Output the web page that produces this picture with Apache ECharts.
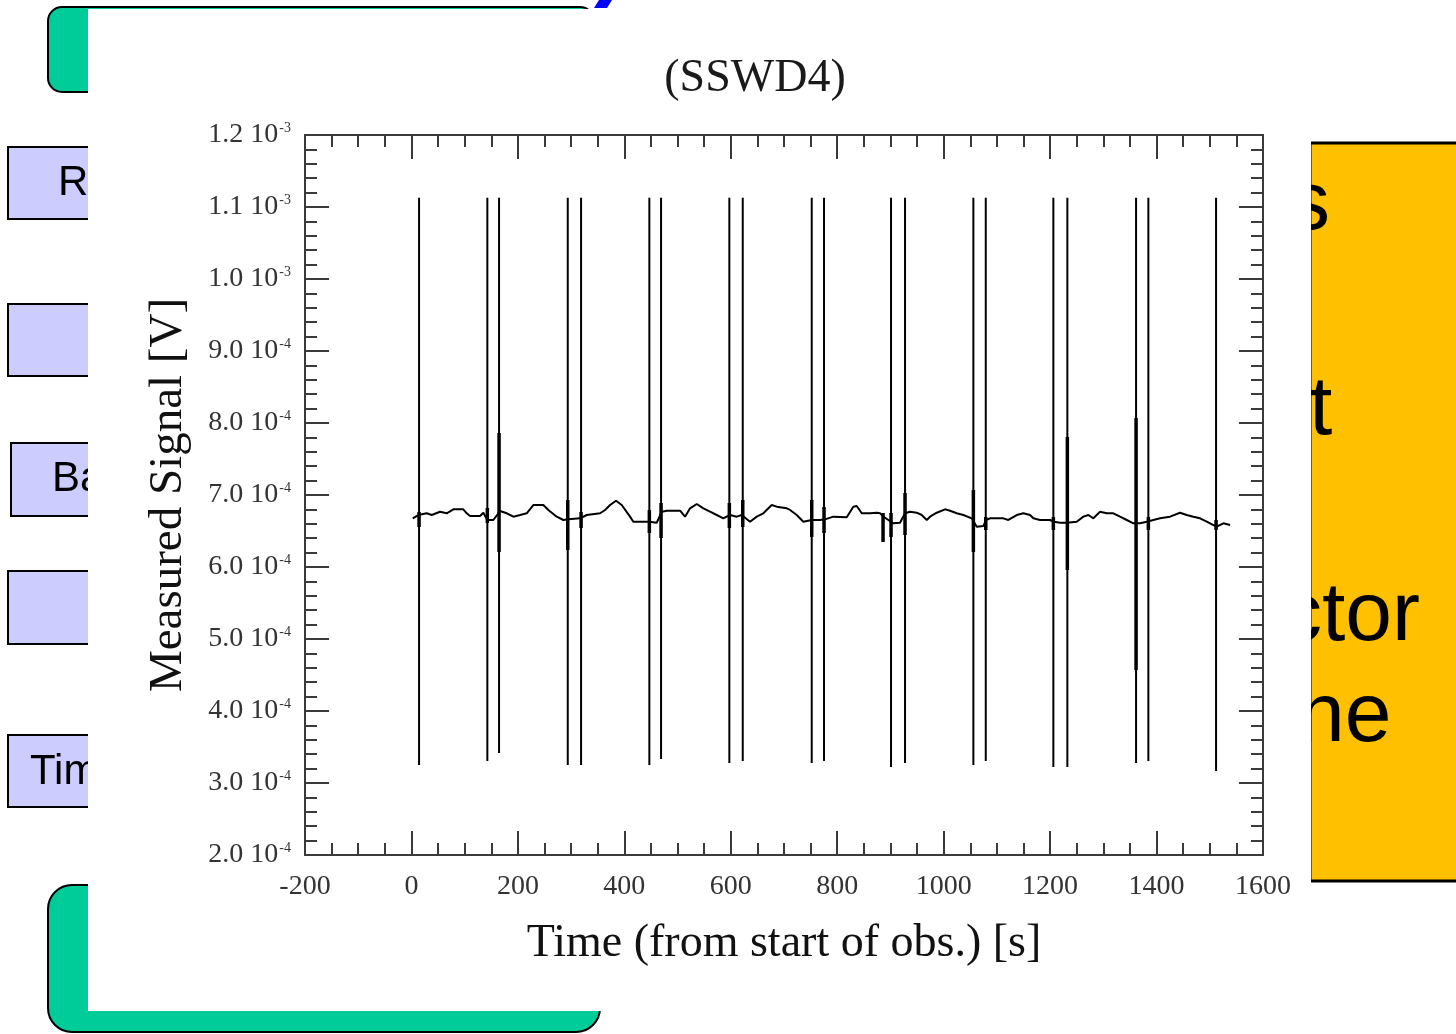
<!DOCTYPE html>
<html>
<head>
<meta charset="utf-8">
<script src="https://cdn.jsdelivr.net/npm/echarts@6/dist/echarts.min.js"></script>
<style>
html,body{margin:0;padding:0;background:#fff;}
#c{width:1456px;height:1034px;}
</style>
</head>
<body>
<div id="c"></div>
<script>
// ---- Data ----
const signalT = [2.4, 13.0, 28.7, 38.1, 53.7, 66.3, 78.7, 97.5, 103.9, 110.1, 128.9, 135.1, 142.6, 153.9, 166.5, 179.1, 191.5, 204.0, 216.6, 229.0, 247.8, 257.2, 273.0, 285.4, 294.8, 316.8, 329.4, 354.4, 363.8, 373.2, 384.4, 395.1, 410.7, 416.9, 435.7, 447.0, 460.9, 470.3, 479.7, 504.7, 514.1, 523.5, 536.1, 548.5, 561.0, 573.6, 586.0, 598.6, 611.2, 620.6, 636.2, 648.8, 661.2, 677.0, 686.4, 705.2, 711.4, 723.9, 736.4, 752.1, 767.7, 777.1, 792.7, 817.9, 830.3, 836.7, 846.1, 861.7, 874.3, 880.5, 886.7, 896.1, 905.5, 918.0, 927.4, 936.8, 949.4, 958.8, 968.2, 974.4, 987.0, 1002.6, 1012.0, 1024.6, 1037.0, 1052.7, 1062.1, 1074.6, 1079.6, 1087.1, 1112.1, 1121.5, 1137.3, 1149.7, 1162.3, 1168.5, 1181.1, 1199.9, 1207.4, 1218.7, 1231.3, 1250.0, 1262.5, 1271.9, 1281.3, 1293.8, 1306.4, 1318.8, 1331.4, 1344.0, 1356.4, 1369.0, 1381.6, 1394.0, 1406.6, 1425.3, 1444.1, 1456.7, 1469.1, 1481.7, 1494.3, 1506.7, 1513.1, 1525.5, 1538.1];
const signalV = [6.676e-4, 6.722e-4, 6.746e-4, 6.722e-4, 6.768e-4, 6.746e-4, 6.801e-4, 6.801e-4, 6.746e-4, 6.708e-4, 6.708e-4, 6.754e-4, 6.653e-4, 6.653e-4, 6.778e-4, 6.746e-4, 6.699e-4, 6.722e-4, 6.746e-4, 6.861e-4, 6.861e-4, 6.792e-4, 6.699e-4, 6.653e-4, 6.662e-4, 6.676e-4, 6.722e-4, 6.746e-4, 6.792e-4, 6.861e-4, 6.921e-4, 6.861e-4, 6.699e-4, 6.629e-4, 6.629e-4, 6.629e-4, 6.615e-4, 6.768e-4, 6.782e-4, 6.782e-4, 6.699e-4, 6.815e-4, 6.875e-4, 6.815e-4, 6.768e-4, 6.722e-4, 6.676e-4, 6.722e-4, 6.699e-4, 6.722e-4, 6.629e-4, 6.699e-4, 6.746e-4, 6.861e-4, 6.838e-4, 6.815e-4, 6.792e-4, 6.722e-4, 6.629e-4, 6.653e-4, 6.653e-4, 6.662e-4, 6.699e-4, 6.690e-4, 6.838e-4, 6.847e-4, 6.746e-4, 6.746e-4, 6.754e-4, 6.746e-4, 6.699e-4, 6.653e-4, 6.607e-4, 6.615e-4, 6.746e-4, 6.768e-4, 6.754e-4, 6.722e-4, 6.653e-4, 6.699e-4, 6.754e-4, 6.801e-4, 6.782e-4, 6.746e-4, 6.722e-4, 6.676e-4, 6.560e-4, 6.569e-4, 6.653e-4, 6.676e-4, 6.676e-4, 6.653e-4, 6.722e-4, 6.746e-4, 6.722e-4, 6.676e-4, 6.653e-4, 6.653e-4, 6.629e-4, 6.615e-4, 6.615e-4, 6.629e-4, 6.699e-4, 6.722e-4, 6.676e-4, 6.768e-4, 6.746e-4, 6.746e-4, 6.699e-4, 6.653e-4, 6.607e-4, 6.607e-4, 6.629e-4, 6.653e-4, 6.676e-4, 6.699e-4, 6.754e-4, 6.722e-4, 6.699e-4, 6.676e-4, 6.629e-4, 6.583e-4, 6.560e-4, 6.607e-4, 6.583e-4];

const spikeT    = [14.3, 142.6, 164.6, 293.7, 318.7, 447.0, 469.0, 597.3, 622.5, 752.1, 775.2, 901.1, 927.4, 1055.8, 1079.1, 1206.1, 1232.4, 1361.5, 1384.6, 1511.8];
const spikeLow  = [3.250e-4, 3.306e-4, 3.417e-4, 3.250e-4, 3.250e-4, 3.250e-4, 3.333e-4, 3.278e-4, 3.306e-4, 3.278e-4, 3.306e-4, 3.222e-4, 3.278e-4, 3.250e-4, 3.306e-4, 3.222e-4, 3.222e-4, 3.278e-4, 3.306e-4, 3.167e-4];
const spikeHigh = [1.113e-3, 1.113e-3, 1.113e-3, 1.113e-3, 1.113e-3, 1.113e-3, 1.113e-3, 1.113e-3, 1.113e-3, 1.113e-3, 1.113e-3, 1.113e-3, 1.113e-3, 1.113e-3, 1.113e-3, 1.113e-3, 1.113e-3, 1.113e-3, 1.113e-3, 1.113e-3];

const barT    = [14.3, 142.6, 164.6, 293.7, 318.7, 447.0, 469.0, 597.3, 622.5, 752.1, 775.2, 886.1, 901.1, 927.4, 1055.8, 1079.1, 1206.1, 1232.4, 1361.5, 1384.6, 1511.8];
const barLow  = [6.556e-4, 6.611e-4, 6.208e-4, 6.236e-4, 6.542e-4, 6.472e-4, 6.403e-4, 6.542e-4, 6.556e-4, 6.417e-4, 6.472e-4, 6.347e-4, 6.417e-4, 6.444e-4, 6.208e-4, 6.514e-4, 6.514e-4, 5.958e-4, 4.569e-4, 6.514e-4, 6.514e-4];
const barHigh = [6.764e-4, 6.819e-4, 7.861e-4, 6.931e-4, 6.764e-4, 6.792e-4, 6.889e-4, 6.889e-4, 6.931e-4, 6.931e-4, 6.833e-4, 6.750e-4, 6.750e-4, 7.028e-4, 7.069e-4, 6.694e-4, 6.694e-4, 7.806e-4, 8.069e-4, 6.694e-4, 6.653e-4];

const yTickMantissa = ['2.0', '3.0', '4.0', '5.0', '6.0', '7.0', '8.0', '9.0', '1.0', '1.1', '1.2'];
const yTickExponent = ['-4', '-4', '-4', '-4', '-4', '-4', '-4', '-4', '-3', '-3', '-3'];

const chartTitle = '(SSWD4)';
const xName = 'Time (from start of obs.) [s]';
const yName = 'Measured Signal [V]';
const leftBoxTexts = ['R', '', 'Ba', '', 'Tim'];
const rightWords = ['s', 't', 'ctor', 'ne'];

// ---- Build ----
const serif = 'Liberation Serif';
const sans = 'Liberation Sans';
const axisColor = '#3a3a3a';

const signalData = signalT.map((t, i) => [t, signalV[i]]);
const spikeData = spikeT.map((t, i) => [t, spikeLow[i], spikeHigh[i]]);
const barData = barT.map((t, i) => [t, barLow[i], barHigh[i]]);

function segRenderer(width) {
  return function (params, api) {
    const p1 = api.coord([api.value(0), api.value(1)]);
    const p2 = api.coord([api.value(0), api.value(2)]);
    return {
      type: 'line',
      shape: { x1: p1[0], y1: p1[1], x2: p2[0], y2: p2[1] },
      style: { stroke: '#000', lineWidth: width }
    };
  };
}

const leftBoxes = [
  { x: 8, y: 147, h: 72 },
  { x: 8, y: 304, h: 72 },
  { x: 11, y: 443, h: 73 },
  { x: 8, y: 571, h: 73 },
  { x: 8, y: 735, h: 72 }
];
const leftTextPos = [{ x: 58, y: 183 }, null, { x: 52, y: 479 }, null, { x: 30, y: 772 }];
const rightTextPos = [{ x: 1288, y: 206 }, { x: 1309, y: 411 }, { x: 1280, y: 617 }, { x: 1298, y: 718 }];

const graphics = [];
graphics.push({ type: 'rect', z: -30, shape: { x: 1310, y: 143, width: 170, height: 738 },
  style: { fill: '#FFC000', stroke: '#000', lineWidth: 3 } });
rightWords.forEach((w, i) => {
  graphics.push({ type: 'text', z: -25, x: rightTextPos[i].x, y: rightTextPos[i].y,
    style: { text: w, fontFamily: sans, fontSize: 84, fill: '#000', align: 'left', verticalAlign: 'middle' } });
});
leftBoxes.forEach((b, i) => {
  graphics.push({ type: 'rect', z: -30, shape: { x: b.x, y: b.y, width: 220, height: b.h },
    style: { fill: '#CCCCFF', stroke: '#000', lineWidth: 2 } });
  if (leftBoxTexts[i]) {
    graphics.push({ type: 'text', z: -25, x: leftTextPos[i].x, y: leftTextPos[i].y,
      style: { text: leftBoxTexts[i], fontFamily: sans, fontSize: 42, fill: '#000', align: 'left', verticalAlign: 'middle' } });
  }
});
graphics.push({ type: 'rect', z: -30, shape: { x: 48, y: 7, width: 546, height: 85, r: 14 },
  style: { fill: '#00CC99', stroke: '#000', lineWidth: 2 } });
graphics.push({ type: 'rect', z: -30, shape: { x: 48, y: 885, width: 552, height: 147, r: 24 },
  style: { fill: '#00CC99', stroke: '#000', lineWidth: 2 } });
graphics.push({ type: 'polygon', z: -30, shape: { points: [[599, 0], [612, 0], [607, 8], [594, 8]] },
  style: { fill: '#0000FF' } });
graphics.push({ type: 'rect', z: -10, shape: { x: 88, y: 9, width: 1223, height: 1002 },
  style: { fill: '#FFFFFF' } });

const tickCommon = {
  axisLine: { show: true, onZero: false, lineStyle: { color: axisColor, width: 2 } },
  axisTick: { show: true, inside: true, length: 24, lineStyle: { color: axisColor, width: 2 } },
  minorTick: { show: true, length: 12, lineStyle: { color: axisColor, width: 2 } },
  splitLine: { show: false },
  minorSplitLine: { show: false }
};

const option = {
  backgroundColor: '#ffffff',
  animation: false,
  title: {
    text: chartTitle, left: 750, top: 51, textAlign: 'center',
    textStyle: { fontFamily: serif, fontSize: 46, fontWeight: 'normal', color: '#1a1a1a' }
  },
  graphic: { elements: graphics },
  grid: { left: 305, top: 135, width: 958, height: 720, containLabel: false, outerBoundsMode: 'none' },
  xAxis: [
    Object.assign({}, tickCommon, {
      type: 'value', position: 'bottom', min: -200, max: 1600, interval: 200,
      minorTick: Object.assign({}, tickCommon.minorTick, { splitNumber: 4 }),
      axisLabel: {
        show: true, showMinLabel: true, showMaxLabel: true, margin: 18,
        fontFamily: serif, fontSize: 28, color: '#333',
        formatter: function (v) { return String(Math.round(v)); }
      },
      name: xName, nameLocation: 'middle', nameGap: 66,
      nameTextStyle: { fontFamily: serif, fontSize: 46, color: '#111' }
    }),
    Object.assign({}, tickCommon, {
      type: 'value', position: 'top', min: -200, max: 1600, interval: 200,
      minorTick: Object.assign({}, tickCommon.minorTick, { splitNumber: 4 }),
      axisLabel: { show: false }
    })
  ],
  yAxis: [
    Object.assign({}, tickCommon, {
      type: 'value', position: 'left', min: 2e-4, max: 1.2e-3, interval: 1e-4,
      minorTick: Object.assign({}, tickCommon.minorTick, { splitNumber: 5 }),
      axisLabel: {
        show: true, showMinLabel: true, showMaxLabel: true, margin: 14,
        formatter: function (v) {
          const i = Math.round(v * 1e4) - 2;
          return '{m|' + yTickMantissa[i] + ' 10}{e|' + yTickExponent[i] + '}';
        },
        rich: {
          m: { fontFamily: serif, fontSize: 28, color: '#333' },
          e: { fontFamily: serif, fontSize: 14, color: '#333', verticalAlign: 'top', padding: [0, 0, 0, 1] }
        }
      },
      name: yName, nameLocation: 'middle', nameGap: 113, nameRotate: 90,
      nameTextStyle: { fontFamily: serif, fontSize: 47, color: '#111' }
    }),
    Object.assign({}, tickCommon, {
      type: 'value', position: 'right', min: 2e-4, max: 1.2e-3, interval: 1e-4,
      minorTick: Object.assign({}, tickCommon.minorTick, { splitNumber: 5 }),
      axisLabel: { show: false }
    })
  ],
  series: [
    {
      type: 'custom', name: 'spikes', xAxisIndex: 0, yAxisIndex: 0, z: 3,
      renderItem: segRenderer(2), encode: { x: 0, y: [1, 2] }, data: spikeData
    },
    {
      type: 'custom', name: 'bars', xAxisIndex: 0, yAxisIndex: 0, z: 4,
      renderItem: segRenderer(3.5), encode: { x: 0, y: [1, 2] }, data: barData
    },
    {
      type: 'line', name: 'signal', xAxisIndex: 0, yAxisIndex: 0, z: 5,
      data: signalData, showSymbol: false, symbol: 'none',
      lineStyle: { color: '#000', width: 2 }
    }
  ]
};

const chart = echarts.init(document.getElementById('c'), null, { renderer: 'canvas' });
chart.setOption(option);
</script>
</body>
</html>
